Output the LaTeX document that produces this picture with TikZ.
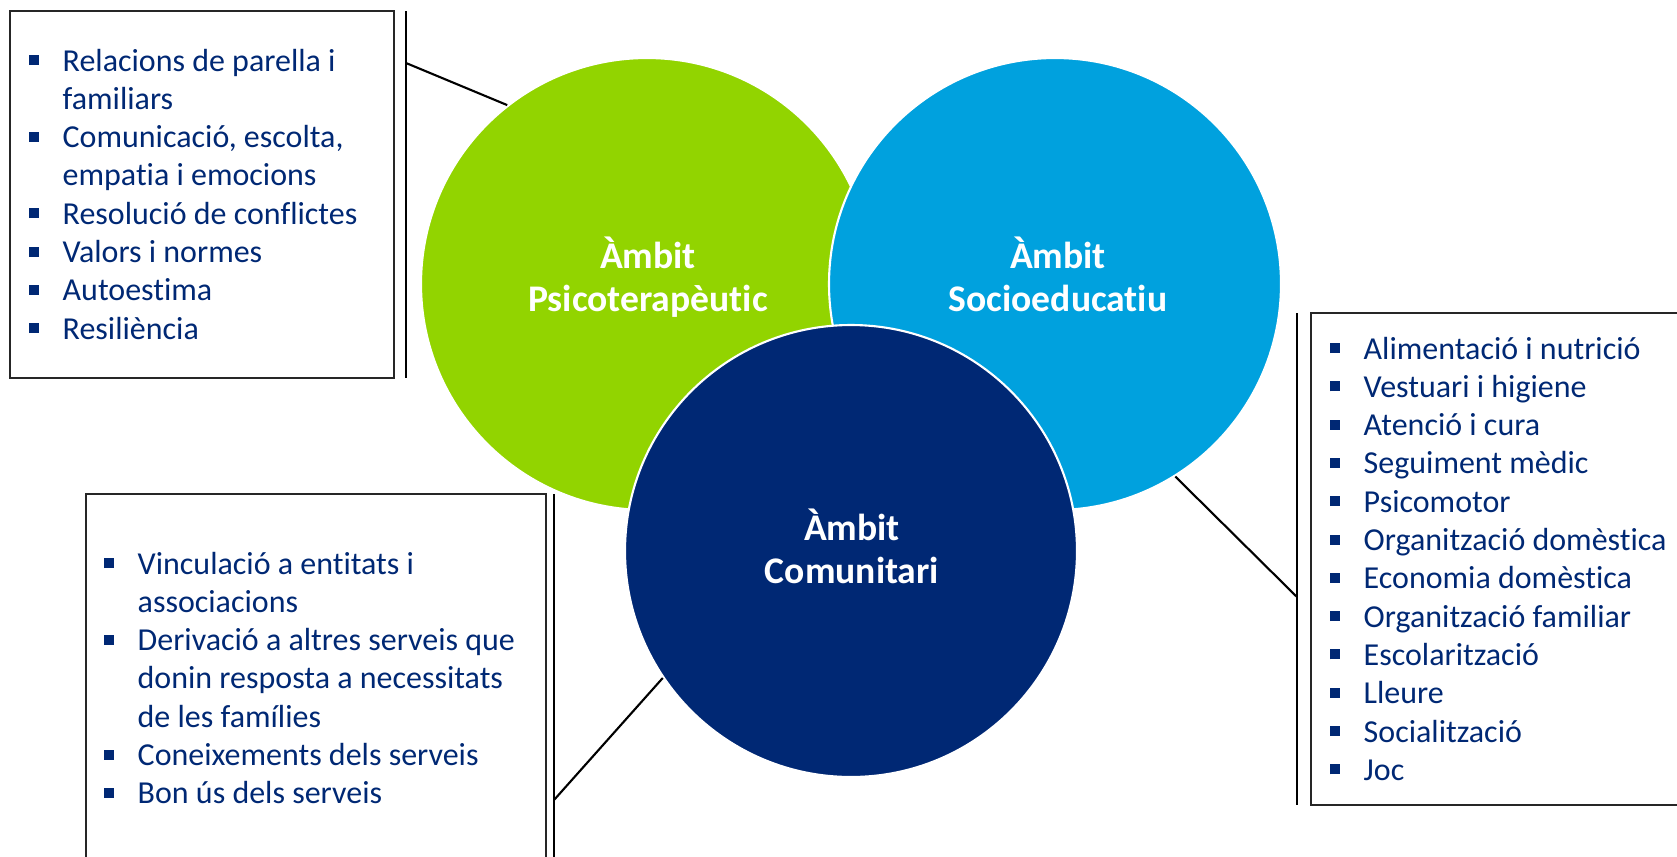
\documentclass[tikz,border=0pt]{standalone}
\usepackage{fontspec}
\setmainfont{Carlito}[Ligatures=NoCommon]
\definecolor{ambgreen}{HTML}{92D400}
\definecolor{ambblue}{HTML}{00A1DE}
\definecolor{ambnavy}{HTML}{002874}
\newcommand{\bul}{\makebox[0.34cm][l]{\raisebox{0.06cm}{\color{ambnavy}\rule{0.1cm}{0.1cm}}}}
\newcommand{\nob}{\hspace*{0.34cm}}
\begin{document}
\begin{tikzpicture}
        [
            ambit/.style={circle, draw=white, line width=0.6pt, minimum size=4.52cm, inner sep=0pt},
            title/.style={text=white, font=\fontsize{10.7}{12.5}\selectfont\bfseries, anchor=base, inner sep=0pt},
            item/.style={text=ambnavy, font=\fontsize{9.1}{10.9}\selectfont, anchor=base west, inner sep=0pt},
            box/.style={rectangle, draw=black!85, line width=0.7pt, inner sep=0pt},
            bar/.style={black, line width=0.8pt},
            link/.style={black, line width=0.6pt}
        ]
        \useasboundingbox (0,0) rectangle (16.77,8.56);
        \clip (0,0) rectangle (16.77,8.56);
        % circles
        \node[ambit, fill=ambgreen] (psi) at (6.47,5.72) {};
        \node[ambit, fill=ambblue] (soc) at (10.55,5.72) {};
        \node[ambit, fill=ambnavy] (com) at (8.51,3.05) {};
        \node[title] (psit) at (6.48,5.88) {\begin{tabular}[t]{c}Àmbit\\Psicoterapèutic\end{tabular}};
        \node[title] (soct) at (10.58,5.88) {\begin{tabular}[t]{c}Àmbit\\Socioeducatiu\end{tabular}};
        \node[title] (comt) at (8.52,3.16) {\begin{tabular}[t]{c}Àmbit\\Comunitari\end{tabular}};
        % Psicoterapeutic
        \node[box, minimum width=3.84cm, minimum height=3.67cm] (psibox) at (2.02,6.615) {};
        \draw[bar] (4.06,8.45) -- (4.06,4.78);
        \coordinate (psiend) at (4.06,7.93);
        \draw[link] (psiend) -- (psi.128);
        \foreach \mk/\txt [count=\i] in {\bul/Relacions de parella i, \nob/familiars, \bul/{Comunicació, escolta,}, \nob/empatia i emocions, \bul/Resolució de conflictes, \bul/Valors i normes, \bul/Autoestima, \bul/Resiliència}
            \node[item] (psil\i) at (0.28,{7.85-0.383*(\i-1)}) {\mk\txt};
        % Socioeducatiu
        \node[box, minimum width=4.09cm, minimum height=4.92cm] (socbox) at (15.155,2.97) {};
        \draw[bar] (12.97,5.43) -- (12.97,0.51);
        \coordinate (socend) at (12.97,2.59);
        \draw[link] (socend) -- (soc.-58);
        \foreach \mk/\txt [count=\i] in {\bul/Alimentació i nutrició, \bul/Vestuari i higiene, \bul/Atenció i cura, \bul/Seguiment mèdic, \bul/Psicomotor, \bul/Organització domèstica, \bul/Economia domèstica, \bul/Organització familiar, \bul/Escolarització, \bul/Lleure, \bul/Socialització, \bul/Joc}
            \node[item] (socl\i) at (13.29,{4.97-0.383*(\i-1)}) {\mk\txt};
        % Comunitari
        \node[box, minimum width=4.60cm, minimum height=4.02cm] (combox) at (3.16,1.61) {};
        \draw[bar] (5.54,3.62) -- (5.54,-0.4);
        \coordinate (comend) at (5.54,0.56);
        \draw[link] (comend) -- (com.214);
        \foreach \mk/\txt [count=\i] in {\bul/Vinculació a entitats i, \nob/associacions, \bul/Derivació a altres serveis que, \nob/donin resposta a necessitats, \nob/de les famílies, \bul/Coneixements dels serveis, \bul/Bon ús dels serveis}
            \node[item] (coml\i) at (1.03,{2.82-0.383*(\i-1)}) {\mk\txt};
    \end{tikzpicture}
\end{document}
